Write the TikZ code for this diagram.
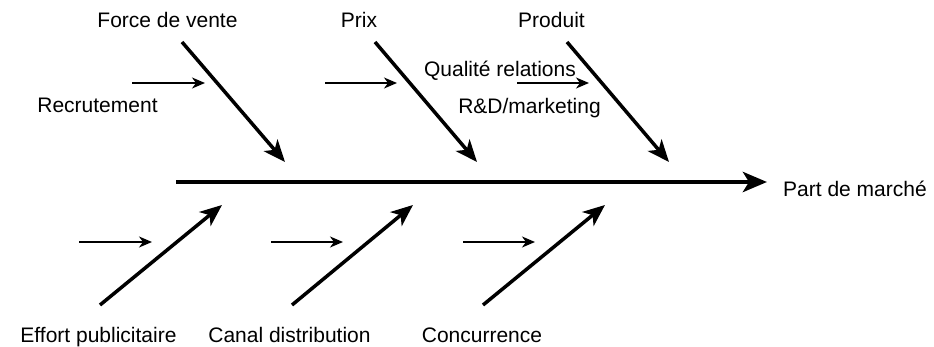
\documentclass[tikz,border=0pt]{standalone}
\usepackage{fontspec}
\setmainfont{Liberation Sans}
\usetikzlibrary{arrows.meta}
\begin{document}
\begin{tikzpicture}[x=1pt,y=-1pt,
  lbl/.style={anchor=base, inner sep=0pt, font=\fontsize{21}{25}\selectfont},
  spine/.style={line width=4.5pt, -{Stealth[length=24pt,width=20pt,inset=6pt]}},
  bone/.style={line width=3.5pt, -{Stealth[length=22pt,width=18pt,inset=6pt]}},
  subarrow/.style={line width=1.5pt, -{Stealth[length=13pt,width=11pt,inset=4pt]}}]
\useasboundingbox (0,0) rectangle (934,347);
% spine
\coordinate (s0) at (176,182);
\coordinate (s1) at (767,182);
\node[lbl, anchor=base west] (effect) at (783,197) {Part de marché};
\draw[spine] (s0) -- (s1);
% top labels
\node[lbl] (force) at (167.5,28) {Force de vente};
\node[lbl] (prix) at (359,28) {Prix};
\node[lbl] (produit) at (551.5,28) {Produit};
\node[lbl] (recr) at (97.5,113) {Recrutement};
\node[lbl] (qual) at (500,77) {Qualité relations};
\node[lbl] (rd) at (529.5,114) {R\&D/marketing};
% top bones
\coordinate (fa) at (182,42);  \coordinate (fb) at (285,162);
\coordinate (pa) at (375,42);  \coordinate (pb) at (477,162);
\coordinate (da) at (567,42);  \coordinate (db) at (669,162);
\draw[bone] (fa) -- (fb);
\draw[bone] (pa) -- (pb);
\draw[bone] (da) -- (db);
% top sub arrows
\coordinate (r1) at (132,83); \coordinate (r2) at (205,83);
\coordinate (p1) at (325,83); \coordinate (p2) at (397,83);
\coordinate (q1) at (517,83); \coordinate (q2) at (589,83);
\draw[subarrow] (r1) -- (r2);
\draw[subarrow] (p1) -- (p2);
\draw[subarrow] (q1) -- (q2);
% bottom labels
\node[lbl] (effort) at (98.5,342) {Effort publicitaire};
\node[lbl] (canal) at (289.5,342) {Canal distribution};
\node[lbl] (conc) at (482,342) {Concurrence};
% bottom bones
\coordinate (ea) at (100,305); \coordinate (eb) at (222,205);
\coordinate (ca) at (292,305); \coordinate (cb) at (413,205);
\coordinate (na) at (483,305); \coordinate (nb) at (605,205);
\draw[bone] (ea) -- (eb);
\draw[bone] (ca) -- (cb);
\draw[bone] (na) -- (nb);
% bottom sub arrows
\coordinate (e1) at (79,242);  \coordinate (e2) at (152,242);
\coordinate (c1) at (271,242); \coordinate (c2) at (343,242);
\coordinate (n1) at (463,242); \coordinate (n2) at (535,242);
\draw[subarrow] (e1) -- (e2);
\draw[subarrow] (c1) -- (c2);
\draw[subarrow] (n1) -- (n2);
\end{tikzpicture}
\end{document}
